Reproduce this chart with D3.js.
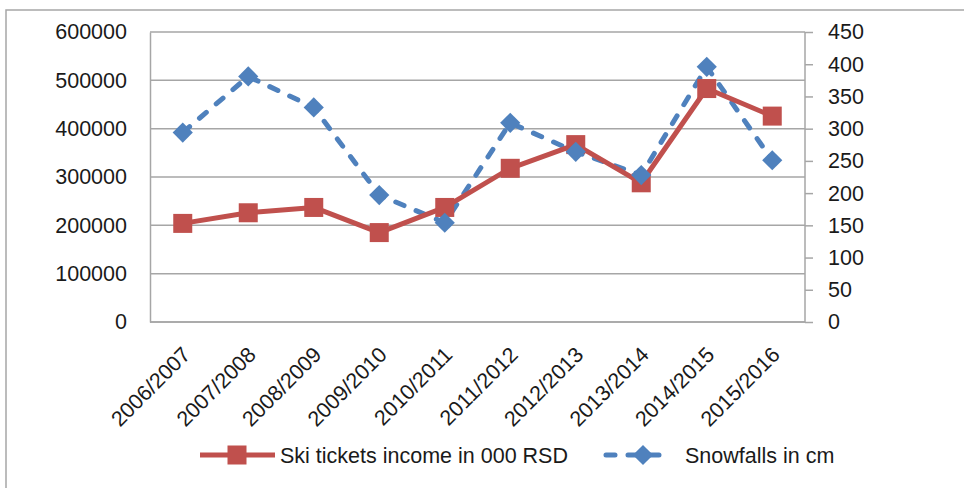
<!DOCTYPE html>
<html>
<head>
<meta charset="utf-8">
<script src="https://cdn.jsdelivr.net/npm/d3@7"></script>
<style>
  html, body { margin: 0; padding: 0; background: #fff; }
  svg { display: block; }
  text { font-family: "Liberation Sans", Arial, sans-serif; fill: #1a1a1a; }
</style>
</head>
<body>
<svg id="chart" width="964" height="488"></svg>
<script>
const categories = ["2006/2007","2007/2008","2008/2009","2009/2010","2010/2011","2011/2012","2012/2013","2013/2014","2014/2015","2015/2016"];
const incomeValues = [204000, 226000, 237000, 185000, 237000, 318000, 367000, 288000, 483000, 426000];
const snowValues = [294, 381, 333, 197, 154, 309, 264, 228, 396, 251];
const leftTicks = [0, 100000, 200000, 300000, 400000, 500000, 600000];
const rightTicks = [0, 50, 100, 150, 200, 250, 300, 350, 400, 450];
const seriesNames = ["Ski tickets income in 000 RSD", "Snowfalls in cm"];

const RED = "#C0504D", BLUE = "#4F81BD", GRID = "#A6A6A6";
const svg = d3.select("#chart");
const m = { left: 150, right: 805, top: 32, bottom: 322 };

// outer frame (only left and top visible in window)
svg.append("rect").attr("x", 6).attr("y", 10).attr("width", 1100).attr("height", 600)
  .attr("fill", "none").attr("stroke", "#A6A6A6").attr("stroke-width", 1.5);

const x = d3.scaleBand().domain(categories).range([m.left, m.right]);
const yL = d3.scaleLinear().domain([0, 600000]).range([m.bottom, m.top]);
const yR = d3.scaleLinear().domain([0, 450]).range([m.bottom, m.top]);
const cx = d => x(d) + x.bandwidth() / 2;

// gridlines
svg.append("g").selectAll("line").data(leftTicks).join("line")
  .attr("x1", m.left).attr("x2", m.right)
  .attr("y1", d => yL(d)).attr("y2", d => yL(d))
  .attr("stroke", GRID).attr("stroke-width", 1.5);

// left axis
const gL = svg.append("g").attr("transform", `translate(${m.left},0)`)
  .call(d3.axisLeft(yL).tickValues(leftTicks).tickSize(0).tickPadding(23).tickFormat(d3.format("d")));
gL.select(".domain").attr("stroke", GRID).attr("stroke-width", 1.5);
gL.selectAll("text").attr("font-size", 21.5).attr("font-family", "Liberation Sans, Arial, sans-serif").attr("fill", "#1a1a1a");

// right axis
const gR = svg.append("g").attr("transform", `translate(${m.right},0)`)
  .call(d3.axisRight(yR).tickValues(rightTicks).tickSize(8).tickPadding(15).tickFormat(d3.format("d")));
gR.select(".domain").attr("stroke", GRID).attr("stroke-width", 1.5).attr("d", `M0,${m.top}V${m.bottom}`);
gR.selectAll(".tick line").attr("stroke", GRID).attr("stroke-width", 1.5);
gR.selectAll("text").attr("font-size", 21.5).attr("font-family", "Liberation Sans, Arial, sans-serif").attr("fill", "#1a1a1a");

// bottom axis
const gB = svg.append("g").attr("transform", `translate(0,${m.bottom})`)
  .call(d3.axisBottom(x).tickSize(0).tickPadding(0));
gB.select(".domain").attr("stroke", GRID).attr("stroke-width", 1.5).attr("d", `M${m.left},0H${m.right}`);
gB.selectAll("text")
  .attr("font-size", 21.5).attr("font-family", "Liberation Sans, Arial, sans-serif").attr("fill", "#1a1a1a")
  .attr("text-anchor", "end").attr("dy", 0).attr("y", 0)
  .attr("transform", "translate(9,34) rotate(-45)");

// snowfall line (right axis)
const lineSnow = d3.line().x((d, i) => cx(categories[i])).y(d => yR(d));
svg.append("path").datum(snowValues).attr("d", lineSnow)
  .attr("fill", "none").attr("stroke", BLUE).attr("stroke-width", 5)
  .attr("stroke-dasharray", "9,13").attr("stroke-linecap", "round").attr("stroke-linejoin", "round");

// income line (left axis)
const lineInc = d3.line().x((d, i) => cx(categories[i])).y(d => yL(d));
svg.append("path").datum(incomeValues).attr("d", lineInc)
  .attr("fill", "none").attr("stroke", RED).attr("stroke-width", 5).attr("stroke-linejoin", "round");

// markers
const sq = 19;
svg.append("g").selectAll("rect").data(incomeValues).join("rect")
  .attr("x", (d, i) => cx(categories[i]) - sq / 2).attr("y", d => yL(d) - sq / 2)
  .attr("width", sq).attr("height", sq).attr("fill", RED);

const diamond = d3.symbol().type(d3.symbolDiamond2).size(260);
svg.append("g").selectAll("path").data(snowValues).join("path")
  .attr("d", diamond)
  .attr("transform", (d, i) => `translate(${cx(categories[i])},${yR(d)}) rotate(0)`)
  .attr("fill", BLUE);

// legend
const leg = svg.append("g");
const ly = 455;
leg.append("line").attr("x1", 200).attr("x2", 275).attr("y1", ly).attr("y2", ly)
  .attr("stroke", RED).attr("stroke-width", 5);
leg.append("rect").attr("x", 237 - sq / 2).attr("y", ly - sq / 2).attr("width", sq).attr("height", sq).attr("fill", RED);
leg.append("text").attr("x", 280).attr("y", ly).attr("dy", "0.36em")
  .attr("font-size", 21.5).text(seriesNames[0]);

leg.append("line").attr("x1", 606).attr("x2", 672).attr("y1", ly).attr("y2", ly)
  .attr("stroke", BLUE).attr("stroke-width", 5).attr("stroke-dasharray", "9,13").attr("stroke-linecap", "round");
leg.append("path").attr("d", diamond).attr("transform", `translate(643,${ly})`).attr("fill", BLUE);
leg.append("text").attr("x", 685).attr("y", ly).attr("dy", "0.36em")
  .attr("font-size", 21.5).text(seriesNames[1]);
</script>
</body>
</html>
